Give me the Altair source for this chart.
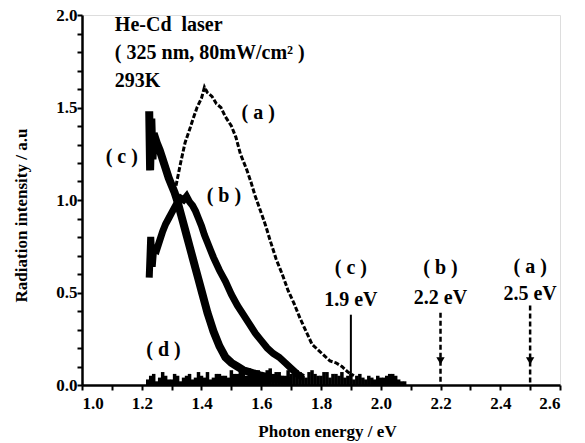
import altair as alt
import pandas as pd

# ---- curve (a): He-Cd excited emission, dashed-looking trace
a_energy = [1.31, 1.32, 1.33, 1.345, 1.36, 1.37, 1.385, 1.40, 1.41, 1.42, 1.435, 1.45,
            1.465, 1.48, 1.50, 1.515, 1.53, 1.55, 1.565, 1.58, 1.60, 1.615, 1.63, 1.65,
            1.67, 1.69, 1.71, 1.73, 1.75, 1.77, 1.79, 1.81, 1.83, 1.85, 1.87, 1.89, 1.91]
a_intensity = [1.04, 1.12, 1.20, 1.31, 1.38, 1.43, 1.50, 1.55, 1.61, 1.58, 1.56, 1.52,
               1.50, 1.45, 1.40, 1.34, 1.25, 1.17, 1.10, 1.02, 0.93, 0.86, 0.78, 0.68,
               0.60, 0.51, 0.44, 0.36, 0.29, 0.22, 0.19, 0.16, 0.13, 0.12, 0.10, 0.07, 0.05]

# ---- curve (b)
b_energy = [1.225, 1.23, 1.235, 1.24, 1.25, 1.26, 1.27, 1.28, 1.29, 1.30, 1.31, 1.32, 1.33,
            1.34, 1.35, 1.36, 1.37, 1.38, 1.39, 1.40, 1.41, 1.42, 1.43, 1.44, 1.46, 1.48,
            1.50, 1.52, 1.54, 1.56, 1.58, 1.60, 1.62, 1.64, 1.66, 1.68, 1.70, 1.72, 1.74]
b_intensity = [0.58, 0.80, 0.64, 0.74, 0.73, 0.78, 0.83, 0.87, 0.90, 0.93, 0.96, 0.99, 1.01,
               1.00, 1.02, 0.99, 0.97, 0.94, 0.90, 0.86, 0.81, 0.77, 0.73, 0.69, 0.62, 0.56,
               0.49, 0.43, 0.38, 0.33, 0.28, 0.24, 0.20, 0.17, 0.15, 0.12, 0.09, 0.06, 0.04]

# ---- curve (c)
c_energy = [1.225, 1.228, 1.232, 1.236, 1.24, 1.25, 1.26, 1.27, 1.28, 1.29, 1.30, 1.31, 1.32,
            1.33, 1.34, 1.35, 1.36, 1.37, 1.38, 1.39, 1.40, 1.41, 1.42, 1.43, 1.44, 1.45,
            1.46, 1.47, 1.48, 1.50, 1.52, 1.54, 1.56, 1.58, 1.60, 1.63, 1.66, 1.70]
c_intensity = [1.48, 1.16, 1.44, 1.22, 1.36, 1.31, 1.27, 1.22, 1.17, 1.12, 1.08, 1.04, 0.99,
               0.93, 0.87, 0.81, 0.75, 0.69, 0.63, 0.57, 0.51, 0.45, 0.39, 0.34, 0.29, 0.25,
               0.21, 0.18, 0.15, 0.12, 0.10, 0.08, 0.07, 0.06, 0.05, 0.04, 0.03, 0.02]

# ---- curve (d): noise near zero
d_energy = [1.22, 1.23, 1.24, 1.25, 1.26, 1.27, 1.28, 1.29, 1.30, 1.31, 1.32, 1.33, 1.34,
            1.35, 1.36, 1.37, 1.38, 1.39, 1.40, 1.41, 1.42, 1.43, 1.44, 1.45, 1.46, 1.47,
            1.48, 1.49, 1.50, 1.51, 1.52, 1.53, 1.54, 1.55, 1.56, 1.57, 1.58, 1.59, 1.60,
            1.61, 1.62, 1.63, 1.64, 1.65, 1.66, 1.67, 1.68, 1.69, 1.70, 1.71, 1.72, 1.73,
            1.74, 1.75, 1.76, 1.77, 1.78, 1.79, 1.80, 1.81, 1.82, 1.83, 1.84, 1.85, 1.86,
            1.87, 1.88, 1.89, 1.90, 1.91, 1.92, 1.93, 1.94, 1.95, 1.96, 1.97, 1.98, 1.99,
            2.00, 2.01, 2.02, 2.03, 2.04, 2.05, 2.06, 2.07, 2.08]
d_intensity = [0.03, 0.05, 0.06, 0.02, 0.04, 0.07, 0.05, 0.03, 0.03, 0.06, 0.05, 0.02, 0.04,
               0.05, 0.06, 0.03, 0.04, 0.07, 0.05, 0.04, 0.07, 0.03, 0.04, 0.06, 0.06, 0.05,
               0.05, 0.04, 0.08, 0.06, 0.06, 0.10, 0.07, 0.05, 0.09, 0.07, 0.06, 0.08, 0.07,
               0.05, 0.08, 0.09, 0.06, 0.07, 0.07, 0.05, 0.05, 0.08, 0.06, 0.06, 0.08, 0.07,
               0.05, 0.04, 0.07, 0.08, 0.06, 0.05, 0.05, 0.07, 0.07, 0.04, 0.06, 0.06, 0.05,
               0.07, 0.04, 0.05, 0.06, 0.03, 0.05, 0.06, 0.04, 0.03, 0.05, 0.04, 0.03, 0.05,
               0.04, 0.04, 0.05, 0.06, 0.06, 0.05, 0.03, 0.02, 0.02]

# ---- band-gap markers
gap_energy = [1.9, 2.2, 2.5]
gap_top = [0.38, 0.39, 0.43]
gap_bottom = [0.0, 0.0, 0.0]
gap_style = ["solid", "dashed", "dashed"]
gap_letter = ["( c )", "( b )", "( a )"]
gap_letter_y = [0.63, 0.63, 0.64]
gap_text = ["1.9 eV", "2.2 eV", "2.5 eV"]
gap_text_y = [0.46, 0.47, 0.49]
head_energy = [2.2, 2.5]
head_intensity = [0.13, 0.13]

# ---- curve labels
label_text = ["( a )", "( b )", "( c )", "( d )"]
label_energy = [1.59, 1.475, 1.133, 1.273]
label_intensity = [1.47, 1.02, 1.23, 0.19]

# ---- condition note
note_text = ["He-Cd\u2002laser", "( 325 nm, 80mW/cm\u00b2 )", "293K"]
note_energy = [1.11, 1.11, 1.11]
note_intensity = [1.946, 1.795, 1.643]

x_ticks = [1.0, 1.1, 1.2, 1.3, 1.4, 1.5, 1.6, 1.7, 1.8, 1.9, 2.0, 2.1, 2.2, 2.3, 2.4, 2.5, 2.6]
y_ticks = [0.0, 0.1, 0.2, 0.3, 0.4, 0.5, 0.6, 0.7, 0.8, 0.9, 1.0, 1.1, 1.2, 1.3, 1.4,
           1.5, 1.6, 1.7, 1.8, 1.9, 2.0]

FONT = "Liberation Serif"
W = "bold"
PLOT_W, PLOT_H = 478, 370

xs = alt.Scale(domain=[1.0, 2.6], nice=False, zero=False)
ys = alt.Scale(domain=[0.0, 2.0], nice=False)

x_axis = alt.Axis(values=x_ticks, format=".1f",
                  labelExpr="(round(datum.value*10) % 2 == 0) ? format(datum.value, '.1f') : ''",
                  labelFont=FONT, labelFontSize=17, labelFontWeight=W, labelColor="black",
                  labelPadding=5, ticks=True, tickSize=5, tickWidth=2, tickColor="black",
                  domainColor="black", domainWidth=2.5, grid=False,
                  title="Photon energy / eV", titleFont=FONT, titleFontSize=17,
                  titleFontWeight=W, titleColor="black", titleX=245, titleY=38)
y_axis = alt.Axis(values=y_ticks, format=".1f",
                  labelExpr="(round(datum.value*10) % 5 == 0) ? format(datum.value, '.1f') : ''",
                  labelFont=FONT, labelFontSize=17, labelFontWeight=W, labelColor="black",
                  labelPadding=0, ticks=True, tickSize=5, tickWidth=2, tickColor="black",
                  domainColor="black", domainWidth=2.5, grid=False,
                  title="Radiation intensity / a.u", titleFont=FONT, titleFontSize=17,
                  titleFontWeight=W, titleColor="black", titleX=-52, titleY=200)


def xenc(field="E"):
    return alt.X(f"{field}:Q", scale=xs, axis=x_axis)


def yenc(field="I"):
    return alt.Y(f"{field}:Q", scale=ys, axis=y_axis)


df_a = pd.DataFrame({"E": a_energy, "I": a_intensity, "k": list(range(len(a_energy)))})
df_b = pd.DataFrame({"E": b_energy, "I": b_intensity, "k": list(range(len(b_energy)))})
df_c = pd.DataFrame({"E": c_energy, "I": c_intensity, "k": list(range(len(c_energy)))})
df_d = pd.DataFrame({"E": d_energy, "I": d_intensity, "I0": [0.0] * len(d_energy)})
df_gap = pd.DataFrame({"E": gap_energy, "I": gap_top, "I0": gap_bottom, "style": gap_style,
                       "letter": gap_letter, "ly": gap_letter_y, "txt": gap_text, "ty": gap_text_y})
df_head = pd.DataFrame({"E": head_energy, "I": head_intensity})
df_lab = pd.DataFrame({"E": label_energy, "I": label_intensity, "t": label_text})
df_note = pd.DataFrame({"E": note_energy, "I": note_intensity, "t": note_text})

noise = alt.Chart(df_d).mark_rule(color="black", strokeWidth=3.5).encode(
    x=xenc(), y=yenc(), y2="I0:Q")

line_a = alt.Chart(df_a).mark_line(color="black", strokeWidth=3, strokeDash=[5, 2]).encode(
    x=xenc(), y=yenc(), order="k:Q")
line_b = alt.Chart(df_b).mark_line(color="black", strokeWidth=7).encode(
    x=xenc(), y=yenc(), order="k:Q")
line_c = alt.Chart(df_c).mark_line(color="black", strokeWidth=8).encode(
    x=xenc(), y=yenc(), order="k:Q")

gap_solid = alt.Chart(df_gap).transform_filter(alt.datum.style == "solid").mark_rule(
    color="black", strokeWidth=2).encode(x=xenc(), y=yenc(), y2="I0:Q")
gap_dash = alt.Chart(df_gap).transform_filter(alt.datum.style == "dashed").mark_rule(
    color="black", strokeWidth=2.5, strokeDash=[5, 3]).encode(x=xenc(), y=yenc(), y2="I0:Q")
heads = alt.Chart(df_head).mark_point(shape="triangle-down", filled=True, color="black",
                                      size=70, opacity=1).encode(x=xenc(), y=yenc())

gap_letters = alt.Chart(df_gap).mark_text(font=FONT, fontSize=20, fontWeight=W, color="black").encode(
    x=xenc(), y=yenc("ly"), text="letter:N")
gap_texts = alt.Chart(df_gap).mark_text(font=FONT, fontSize=20, fontWeight=W, color="black").encode(
    x=xenc(), y=yenc("ty"), text="txt:N")

labels = alt.Chart(df_lab).mark_text(font=FONT, fontSize=20, fontWeight=W, color="black").encode(
    x=xenc(), y=yenc(), text="t:N")
notes = alt.Chart(df_note).mark_text(font=FONT, fontSize=20, fontWeight=W, color="black",
                                     align="left").encode(x=xenc(), y=yenc(), text="t:N")

chart = alt.layer(noise, line_c, line_b, line_a, gap_solid, gap_dash, heads,
                  gap_letters, gap_texts, labels, notes).properties(
    width=PLOT_W, height=PLOT_H,
    autosize=alt.AutoSizeParams(type="none"),
    padding={"left": 82, "top": 15, "right": 25, "bottom": 58},
).configure_view(stroke=None).configure(background="white")

chart.save("out.html", embed_options={"renderer": "svg", "actions": False})
